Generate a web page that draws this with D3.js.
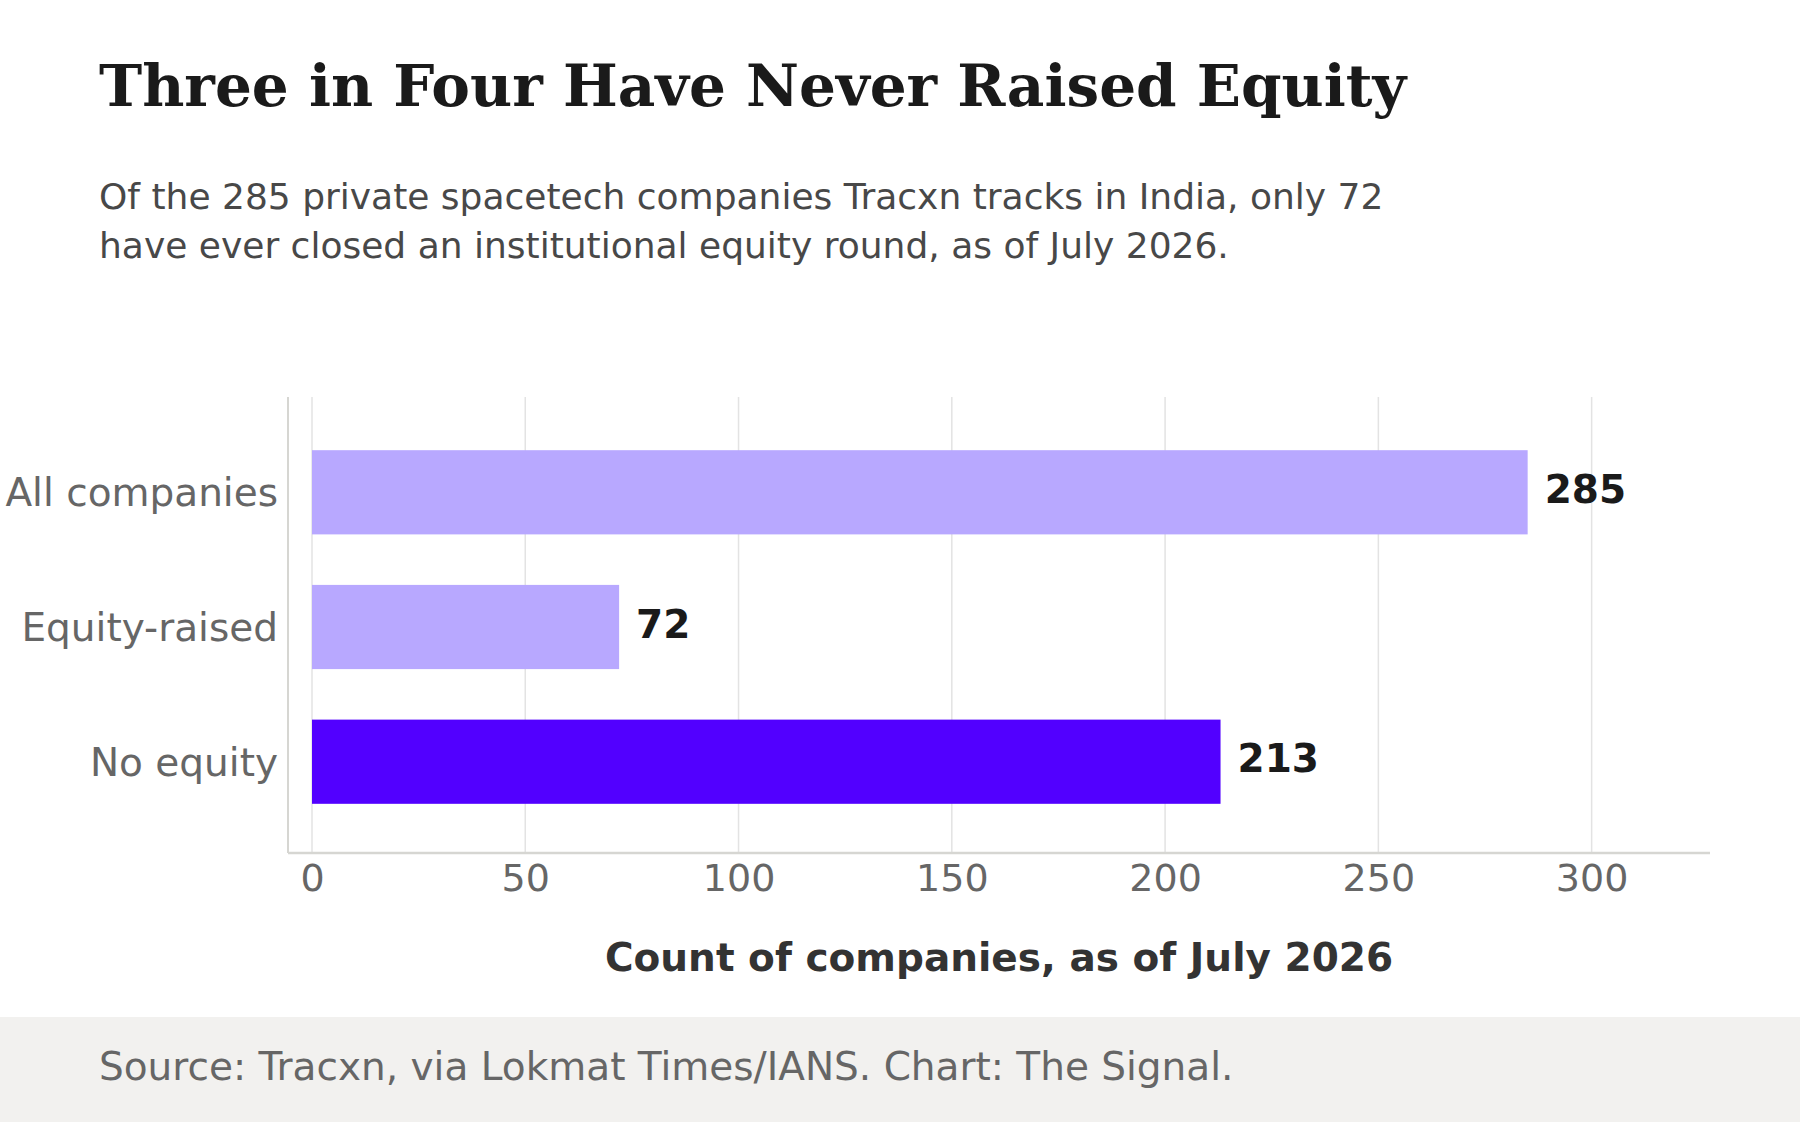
<!DOCTYPE html>
<html>
<head>
<meta charset="utf-8">
<script src="https://cdn.jsdelivr.net/npm/d3@7"></script>
<style>
  body { margin: 0; background: #fff; }
  svg { display: block; }
</style>
</head>
<body>
<div id="chart"></div>
<script>
// data
var categories = ["All companies", "Equity-raised", "No equity"];
var counts = [285, 72, 213];
var barColors = ["#b8a8ff", "#b8a8ff", "#5200ff"];
var xTicks = [0, 50, 100, 150, 200, 250, 300];

var titleText = "Three in Four Have Never Raised Equity";
var subtitleLines = [
  "Of the 285 private spacetech companies Tracxn tracks in India, only 72",
  "have ever closed an institutional equity round, as of July 2026."
];
var axisTitle = "Count of companies, as of July 2026";
var sourceText = "Source: Tracxn, via Lokmat Times/IANS. Chart: The Signal.";

var WIDTH = 1800,
    HEIGHT = 1122;

var svg = d3.select('#chart')
            .append('svg')
            .attr('width', WIDTH)
            .attr('height', HEIGHT);

svg.append('rect')
   .attr('width', WIDTH)
   .attr('height', HEIGHT)
   .attr('fill', '#ffffff');

// header
svg.append('text')
   .attr('x', 99)
   .attr('y', 106)
   .attr('font-family', 'DejaVu Serif')
   .attr('font-weight', 'bold')
   .attr('font-size', 58)
   .attr('fill', '#1a1a1a')
   .text(titleText);

svg.append('g')
   .selectAll('text')
   .data(subtitleLines)
   .enter()
   .append('text')
   .attr('x', 99)
   .attr('y', function(d, i) { return 209 + i * 49; })
   .attr('font-family', 'DejaVu Sans')
   .attr('font-size', 36)
   .attr('fill', '#484848')
   .text(function(d) { return d; });

// plot box
var plotLeft = 312, plotRight = 1710, plotTop = 397, plotBottom = 853;

var x = d3.scaleLinear()
          .domain([0, d3.max(counts) * 1.15])
          .range([plotLeft, plotRight]);

var y = d3.scaleBand()
          .domain(categories)
          .range([plotTop + 2, plotBottom + 2])
          .paddingInner(0.375)
          .paddingOuter(0.38);

// gridlines
svg.append('g')
   .selectAll('line')
   .data(xTicks)
   .enter()
   .append('line')
   .attr('x1', function(d) { return x(d); })
   .attr('x2', function(d) { return x(d); })
   .attr('y1', plotTop)
   .attr('y2', plotBottom)
   .attr('stroke', '#e3e3e3')
   .attr('stroke-width', 1.5);

// axis spines
svg.append('line')
   .attr('x1', plotLeft - 24).attr('x2', plotLeft - 24)
   .attr('y1', plotTop).attr('y2', plotBottom)
   .attr('stroke', '#d6d6d2')
   .attr('stroke-width', 2);

svg.append('line')
   .attr('x1', plotLeft - 24).attr('x2', plotRight)
   .attr('y1', plotBottom).attr('y2', plotBottom)
   .attr('stroke', '#d6d6d2')
   .attr('stroke-width', 2.5);

// x axis
var xAxis = svg.append('g')
   .attr('transform', 'translate(0,' + plotBottom + ')')
   .call(d3.axisBottom(x).tickValues(xTicks).tickSize(0).tickPadding(11));
xAxis.select('.domain').remove();
xAxis.selectAll('text')
     .attr('dy', '0.71em')
     .attr('font-family', 'DejaVu Sans')
     .attr('font-size', 38)
     .attr('fill', '#666666');

// y axis
var yAxis = svg.append('g')
   .attr('transform', 'translate(' + (plotLeft - 34) + ',0)')
   .call(d3.axisLeft(y).tickSize(0).tickPadding(0));
yAxis.select('.domain').remove();
yAxis.selectAll('text')
     .attr('dy', '0.36em')
     .attr('font-family', 'DejaVu Sans')
     .attr('font-size', 39)
     .attr('fill', '#666666');

// bars
svg.append('g')
   .selectAll('rect')
   .data(counts)
   .enter()
   .append('rect')
   .attr('x', x(0))
   .attr('y', function(d, i) { return y(categories[i]); })
   .attr('width', function(d) { return x(d) - x(0); })
   .attr('height', y.bandwidth())
   .attr('fill', function(d, i) { return barColors[i]; });

// value labels
svg.append('g')
   .selectAll('text')
   .data(counts)
   .enter()
   .append('text')
   .attr('x', function(d) { return x(d) + 17; })
   .attr('y', function(d, i) { return y(categories[i]) + y.bandwidth() / 2 - 3; })
   .attr('dy', '0.35em')
   .attr('font-family', 'DejaVu Sans')
   .attr('font-weight', 'bold')
   .attr('font-size', 39)
   .attr('fill', '#1a1a1a')
   .text(function(d) { return d; });

// axis title
svg.append('text')
   .attr('x', (plotLeft - 24 + plotRight) / 2)
   .attr('y', 971)
   .attr('text-anchor', 'middle')
   .attr('font-family', 'DejaVu Sans')
   .attr('font-weight', 'bold')
   .attr('font-size', 39)
   .attr('fill', '#333333')
   .text(axisTitle);

// footer
svg.append('rect')
   .attr('x', 0)
   .attr('y', 1017)
   .attr('width', WIDTH)
   .attr('height', HEIGHT - 1017)
   .attr('fill', '#f2f1ef');

svg.append('text')
   .attr('x', 99)
   .attr('y', 1080)
   .attr('font-family', 'DejaVu Sans')
   .attr('font-size', 39)
   .attr('fill', '#666666')
   .text(sourceText);
</script>
</body>
</html>
